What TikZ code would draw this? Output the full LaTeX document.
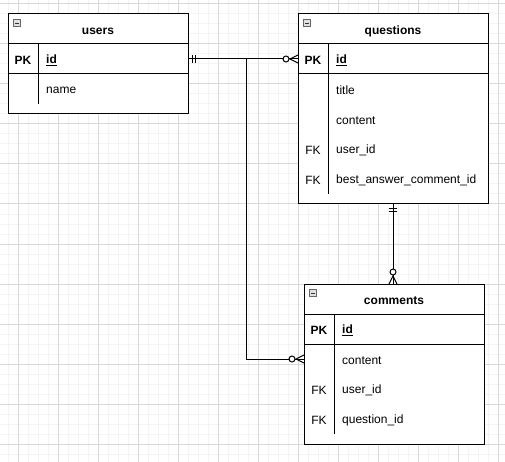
\documentclass[tikz,border=0pt]{standalone}
\usepackage{fontspec}
\setmainfont{Liberation Sans}
\usetikzlibrary{calc, positioning}
\newcommand{\erfont}{\fontsize{12}{14}\selectfont}
\tikzstyle{entity} = [draw=black, line width=1pt, fill=white, rectangle, inner sep=0pt, outer sep=0pt, anchor=north west]
\tikzstyle{entitytitle} = [font=\erfont\bfseries, inner sep=0pt, yshift=-2pt]
\tikzstyle{keycell} = [font=\erfont, inner sep=0pt, yshift=-1.5pt]
\tikzstyle{pkcell} = [font=\erfont\bfseries, inner sep=0pt, yshift=-1.5pt]
\tikzstyle{fieldcell} = [font=\erfont, anchor=west, inner sep=0pt, yshift=-1.5pt]
\tikzstyle{rule} = [line width=1pt]
\tikzstyle{relation} = [line width=1pt]
\tikzstyle{gridminor} = [gray!9, line width=1pt]
\tikzstyle{gridmajor} = [gray!30, line width=1pt]
\tikzset{
	collapse/.pic={
		\draw[black!60, fill=black!12, line width=0.6pt] (-3.5,-3.5) rectangle (3.5,3.5);
		\draw[black!80, line width=0.8pt] (-2,0) -- (2,0);},
	onemark/.pic={\draw[line width=1pt] (4,-4) -- (4,4) (7,-4) -- (7,4);},
	zeromany/.pic={
		\draw[line width=1pt] (0,-4) -- (8,0) -- (0,4);
		\draw[line width=1pt, fill=white] (12,0) circle (3pt);}
}

\begin{document}
\begin{tikzpicture}[x=1pt, y=-1pt]
	% canvas and grid
	\useasboundingbox (0,0) rectangle (505,462);
	\fill[white] (0,0) rectangle (505,462);
	\foreach \g in {8,18,...,498} \draw[gridminor] (\g,0) -- (\g,462);
	\foreach \g in {4,14,...,454} \draw[gridminor] (0,\g) -- (505,\g);
	\foreach \g in {18,58,...,498} \draw[gridmajor] (\g,0) -- (\g,462);
	\foreach \g in {4,44,...,444} \draw[gridmajor] (0,\g) -- (505,\g);

	% users
	\node[entity, minimum width=180pt, minimum height=100pt] (users) at (8,14) {};
	\pic at ($(users.north west)+(9,9)$) {collapse};
	\node[entitytitle] (users-title) at ($(users.north)+(0,15)$) {users};
	\draw[rule] ($(users.north west)+(0,30)$) -- ($(users.north east)+(0,30)$);
	\draw[rule] ($(users.north west)+(0,60)$) -- ($(users.north east)+(0,60)$);
	\draw[rule] ($(users.north west)+(30,30)$) -- ($(users.north west)+(30,90)$);
	\node[pkcell] (users-pk) at ($(users.north west)+(15,45)$) {PK};
	\node[fieldcell] (users-id) at ($(users.north west)+(38,45)$) {\underline{\textbf{id}}};
	\node[fieldcell] (users-name) at ($(users.north west)+(38,75)$) {name};

	% questions
	\node[entity, minimum width=190pt, minimum height=190pt] (questions) at (298,14) {};
	\pic at ($(questions.north west)+(9,9)$) {collapse};
	\node[entitytitle] (questions-title) at ($(questions.north)+(0,15)$) {questions};
	\draw[rule] ($(questions.north west)+(0,30)$) -- ($(questions.north east)+(0,30)$);
	\draw[rule] ($(questions.north west)+(0,60)$) -- ($(questions.north east)+(0,60)$);
	\draw[rule] ($(questions.north west)+(30,30)$) -- ($(questions.north west)+(30,180)$);
	\node[pkcell] (questions-pk) at ($(questions.north west)+(15,45)$) {PK};
	\node[fieldcell] (questions-id) at ($(questions.north west)+(38,45)$) {\underline{\textbf{id}}};
	\foreach \k/\f [count=\i] in {/title, /content, FK/user\_id, FK/best\_answer\_comment\_id} {
		\node[keycell] (questions-key-\i) at ($(questions.north west)+(15,45+30*\i)$) {\k};
		\node[fieldcell] (questions-field-\i) at ($(questions.north west)+(38,45+30*\i)$) {\f};
	}

	% comments
	\node[entity, minimum width=180pt, minimum height=160pt] (comments) at (304,284) {};
	\pic at ($(comments.north west)+(9,9)$) {collapse};
	\node[entitytitle] (comments-title) at ($(comments.north)+(0,15)$) {comments};
	\draw[rule] ($(comments.north west)+(0,30)$) -- ($(comments.north east)+(0,30)$);
	\draw[rule] ($(comments.north west)+(0,60)$) -- ($(comments.north east)+(0,60)$);
	\draw[rule] ($(comments.north west)+(30,30)$) -- ($(comments.north west)+(30,150)$);
	\node[pkcell] (comments-pk) at ($(comments.north west)+(15,45)$) {PK};
	\node[fieldcell] (comments-id) at ($(comments.north west)+(38,45)$) {\underline{\textbf{id}}};
	\foreach \k/\f [count=\i] in {/content, FK/user\_id, FK/question\_id} {
		\node[keycell] (comments-key-\i) at ($(comments.north west)+(15,45+30*\i)$) {\k};
		\node[fieldcell] (comments-field-\i) at ($(comments.north west)+(38,45+30*\i)$) {\f};
	}

	% relations
	\coordinate (users-out) at ($(users.north east)+(0,45)$);
	\coordinate (questions-in) at ($(questions.north west)+(0,45)$);
	\coordinate (comments-in) at ($(comments.north west)+(0,75)$);
	\coordinate (branch) at (246,59);
	\coordinate (comments-top) at (questions.south |- comments.north);
	\draw[relation] (users-out) -- (questions-in);
	\draw[relation] (users-out) -- (branch) |- (comments-in);
	\draw[relation] (questions.south) -- (comments-top);
	\pic at (users-out) {onemark};
	\pic[rotate=180] at (questions-in) {zeromany};
	\pic[rotate=180] at (comments-in) {zeromany};
	\pic[rotate=-90] at (questions.south) {onemark};
	\pic[rotate=90] at (comments-top) {zeromany};
\end{tikzpicture}
\end{document}
